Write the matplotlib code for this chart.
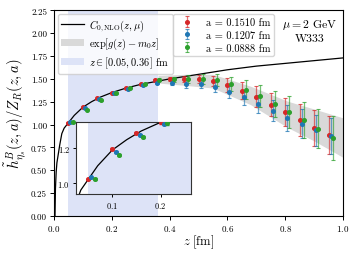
import matplotlib
matplotlib.use("Agg")
import matplotlib.pyplot as plt
from matplotlib.lines import Line2D
from matplotlib.patches import Patch
import numpy as np

plt.rcParams['font.family'] = 'serif'
plt.rcParams['font.serif'] = ['cmr10', 'DejaVu Serif']
plt.rcParams['mathtext.fontset'] = 'cm'
plt.rcParams['axes.formatter.use_mathtext'] = True

# ---- data ----
z_grid = [0.05, 0.10, 0.15, 0.20, 0.25, 0.30, 0.35, 0.40, 0.45, 0.50,
          0.55, 0.60, 0.65, 0.70, 0.75, 0.80, 0.85, 0.90, 0.95]
labels = ["a = 0.1510 fm", "a = 0.1207 fm", "a = 0.0888 fm"]
offsets = [0.0, 0.007, 0.014]
colors = ["#d62728", "#1f77b4", "#2ca02c"]

y_a1510 = [1.021, 1.195, 1.288, 1.350, 1.400, 1.444, 1.483, 1.495, 1.497, 1.498,
           1.480, 1.436, 1.371, 1.302, 1.218, 1.134, 1.051, 0.964, 0.883]
e_a1510 = [0.004, 0.005, 0.006, 0.007, 0.008, 0.010, 0.013, 0.022, 0.033, 0.040,
           0.055, 0.076, 0.090, 0.115, 0.130, 0.154, 0.176, 0.196, 0.210]
y_a1207 = [1.033, 1.180, 1.277, 1.340, 1.390, 1.430, 1.457, 1.457, 1.446, 1.444,
           1.411, 1.357, 1.298, 1.226, 1.153, 1.076, 1.008, 0.935, 0.872]
e_a1207 = [0.004, 0.005, 0.006, 0.007, 0.009, 0.011, 0.014, 0.025, 0.042, 0.045,
           0.058, 0.069, 0.082, 0.096, 0.118, 0.142, 0.158, 0.174, 0.200]
y_a0888 = [1.023, 1.161, 1.265, 1.345, 1.405, 1.447, 1.490, 1.497, 1.497, 1.502,
           1.488, 1.444, 1.380, 1.313, 1.226, 1.134, 1.051, 0.956, 0.855]
e_a0888 = [0.004, 0.005, 0.006, 0.008, 0.010, 0.012, 0.016, 0.028, 0.042, 0.055,
           0.067, 0.082, 0.105, 0.118, 0.145, 0.176, 0.200, 0.218, 0.240]
series_y = [y_a1510, y_a1207, y_a0888]
series_e = [e_a1510, e_a1207, e_a0888]

# C0,NLO curve
z_curve = [0.0034, 0.005, 0.0075, 0.01, 0.015, 0.02, 0.027, 0.035, 0.05, 0.07,
           0.1, 0.13, 0.16, 0.2, 0.25, 0.3, 0.4, 0.5, 0.6, 0.7, 0.8, 0.9, 1.0]
y_curve = [0.0, 0.30, 0.48, 0.58, 0.68, 0.78, 0.90, 0.96, 1.02, 1.10,
           1.19, 1.25, 1.30, 1.35, 1.40, 1.44, 1.50, 1.55, 1.60, 1.64, 1.67, 1.70, 1.73]

# exp[g(z) - m0 z] band
z_band = [0.36, 0.45, 0.55, 0.68, 0.81, 0.90, 1.0]
band_lo = [1.455, 1.43, 1.40, 1.218, 0.964, 0.82, 0.64]
band_hi = [1.538, 1.55, 1.55, 1.42, 1.254, 1.17, 1.073]

fit_range = [0.05, 0.36]

# ---- figure ----
fig = plt.figure(figsize=(3.57, 2.55), dpi=100)
ax = fig.add_axes([0.1513, 0.150, 0.8095, 0.805])

ax.axvspan(fit_range[0], fit_range[1], color="#dde3f7", lw=0, zorder=0)
ax.fill_between(z_band, band_lo, band_hi, color="#d9d9d9", lw=0, zorder=1)
ax.plot(z_curve, y_curve, color="black", lw=0.9, zorder=2)

handles = []
for i in range(3):
    zz = [z + offsets[i] for z in z_grid]
    h = ax.errorbar(zz, series_y[i], yerr=series_e[i], fmt="o", ms=2.6,
                    color=colors[i], ecolor=colors[i], elinewidth=0.9,
                    capsize=1.3, capthick=0.8, zorder=3, label=labels[i])
    for c in h[1]:
        c.set_alpha(0.75)
    for c in h[2]:
        c.set_alpha(0.65)
    handles.append(h)

ax.set_xlim(0, 1.0)
ax.set_ylim(0, 2.25)
ax.set_xticks([0.0, 0.2, 0.4, 0.6, 0.8, 1.0])
ax.set_yticks([0.0, 0.25, 0.5, 0.75, 1.0, 1.25, 1.5, 1.75, 2.0, 2.25])
ax.set_yticklabels(["0.00", "0.25", "0.50", "0.75", "1.00", "1.25", "1.50", "1.75", "2.00", "2.25"])
ax.tick_params(labelsize=6.5, length=3, width=0.7, pad=2)
ax.set_xlabel(r"$z\ [\mathrm{fm}]$", fontsize=9, labelpad=0)
ax.set_ylabel(r"$\tilde{h}^{B}_{\eta_s}(z,a)/Z_R(z,a)$", fontsize=10.5, labelpad=2)

leg1_handles = [Line2D([0], [0], color="black", lw=0.9),
                Patch(facecolor="#d9d9d9", edgecolor="none"),
                Patch(facecolor="#dde3f7", edgecolor="none")]
leg1_labels = [r"$C_{0,\mathrm{NLO}}(z,\mu)$", r"$\exp[g(z)-m_0 z]$",
               r"$z\in[0.05,0.36]$ fm"]
leg1 = ax.legend(leg1_handles, leg1_labels, loc="upper left",
                 bbox_to_anchor=(0.0, 1.0), fontsize=7.5, frameon=True,
                 fancybox=True, framealpha=0.8, edgecolor="#cccccc",
                 handlelength=2.2, borderpad=0.35, labelspacing=0.3,
                 handletextpad=0.5, borderaxespad=0.35)
ax.add_artist(leg1)
leg2 = ax.legend(handles, labels, loc="upper right",
                 bbox_to_anchor=(0.775, 1.0), fontsize=7.5, frameon=True,
                 fancybox=True, framealpha=0.8, edgecolor="#cccccc",
                 handlelength=2.0, borderpad=0.35, labelspacing=0.3,
                 borderaxespad=0.35)

ax.text(0.886, 0.905, "$\\mu = 2$ GeV\nW333", transform=ax.transAxes,
        ha="center", va="center", fontsize=8.5, linespacing=1.25)

# ---- inset ----
axi = fig.add_axes([0.2129, 0.2353, 0.322, 0.2824])
axi.axvspan(fit_range[0], fit_range[1], color="#dde3f7", lw=0, zorder=0)
axi.plot(z_curve, y_curve, color="black", lw=0.9, zorder=2)
for i in range(3):
    zz = [z + offsets[i] for z in z_grid]
    axi.errorbar(zz, series_y[i], yerr=series_e[i], fmt="o", ms=2.6,
                 color=colors[i], elinewidth=0.9, capsize=1.3, zorder=3)
axi.set_xlim(0.025, 0.263)
axi.set_ylim(0.937, 1.352)
axi.set_xticks([0.1, 0.2])
axi.set_yticks([1.0, 1.2])
axi.tick_params(labelsize=6, length=2.5, width=0.7, pad=2)
for s in axi.spines.values():
    s.set_color("#333333")

fig.savefig("out.png", dpi=100)
